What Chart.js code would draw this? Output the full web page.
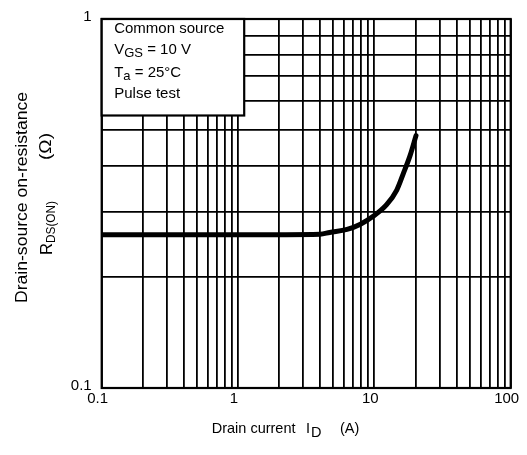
<!DOCTYPE html>
<html>
<head>
<meta charset="utf-8">
<script src="https://cdn.jsdelivr.net/npm/chart.js@4/dist/chart.umd.min.js"></script>
<style>
	html, body { margin: 0; padding: 0; background: #fff; }
	canvas { display: block; }
</style>
</head>
<body>
<canvas id="rds-chart" width="527" height="455"></canvas>
<script>
	'use strict';

	// curve (A, ohm)
	const drainCurrent = [0.1, 1, 4, 4.7, 6.3, 7.9, 9.8, 12.3, 14.6, 16.3, 18.3, 20.2];
	const onResistance = [0.26, 0.26, 0.261, 0.264, 0.269, 0.278, 0.292, 0.314, 0.344, 0.381, 0.427, 0.483];

	const xTickLabels = ['0.1', '1', '10', '100'];
	const yTickLabels = ['0.1', '1'];
	const gridSteps = [1, 2, 3, 4, 5, 6, 7, 8, 9];

	const fontFamily = '"Liberation Sans", Arial, sans-serif';

	// log grid: 1..9 in every decade between the first and last labels
	function logGrid( labels ) {
		var out = [];
		for ( var i = 0; i < labels.length - 1; i++ ) {
			var base = parseFloat( labels[i] );
			gridSteps.forEach(function( s ) {
				out.push( { value: +( base * s ).toPrecision( 3 ) } );
			});
		}
		out.push( { value: parseFloat( labels[labels.length - 1] ) } );
		return out;
	}

	function decadeLabel( labels ) {
		return function( value ) {
			var hit = labels.find(function( l ) { return Math.abs( parseFloat( l ) - value ) < 1e-9; });
			return hit ? hit : '';
		};
	}

	// draws a string rotated -90deg, squeezed/stretched to a given length
	function vText( ctx, str, x, y, font, len ) {
		ctx.save();
		ctx.font = font;
		ctx.translate( x, y );
		ctx.rotate( -Math.PI / 2 );
		if ( len ) {
			ctx.scale( len / ctx.measureText( str ).width, 1 );
		}
		ctx.fillText( str, 0, 0 );
		ctx.restore();
	}

	const labelsPlugin = {
		id: 'labels',
		afterDraw: function( chart ) {
			var ctx = chart.ctx;
			var a = chart.chartArea;

			ctx.save();
			ctx.fillStyle = '#000';
			ctx.strokeStyle = '#000';
			ctx.textAlign = 'left';
			ctx.textBaseline = 'alphabetic';

			// frame
			ctx.lineWidth = 2.2;
			ctx.strokeRect( a.left, a.top, a.right - a.left, a.bottom - a.top );

			// condition box
			ctx.fillStyle = '#fff';
			ctx.fillRect( a.left, a.top, 142.5, 96.5 );
			ctx.strokeRect( a.left, a.top, 142.5, 96.5 );
			ctx.fillStyle = '#000';

			var big = '15px ' + fontFamily;
			var sub = '13px ' + fontFamily;
			var tx = a.left + 12.5;

			ctx.font = big;
			ctx.fillText( 'Common source', tx, 32.7 );

			ctx.fillText( 'V', tx, 54.3 );
			var w = ctx.measureText( 'V' ).width;
			ctx.font = sub;
			ctx.fillText( 'GS', tx + w, 56.8 );
			w += ctx.measureText( 'GS' ).width;
			ctx.font = big;
			ctx.fillText( ' = 10 V', tx + w, 54.3 );

			ctx.fillText( 'T', tx, 76.5 );
			w = ctx.measureText( 'T' ).width;
			ctx.font = sub;
			ctx.fillText( 'a', tx + w, 79.5 );
			w += ctx.measureText( 'a' ).width;
			ctx.font = big;
			ctx.fillText( ' = 25\u00b0C', tx + w, 76.5 );

			ctx.fillText( 'Pulse test', tx, 97.5 );

			// x title
			ctx.font = '14.5px ' + fontFamily;
			ctx.fillText( 'Drain current', 211.7, 433.3 );
			ctx.fillText( 'I', 306, 433.3 );
			ctx.fillText( 'D', 311, 436.8 );
			ctx.fillText( '(A)', 340, 433.3 );

			// y title
			vText( ctx, 'Drain-source on-resistance', 27, 303, '16px ' + fontFamily, 211 );
			vText( ctx, 'R', 52, 255, '16.5px ' + fontFamily );
			vText( ctx, 'DS(ON)', 55, 243, '13px ' + fontFamily, 42 );
			vText( ctx, '(\u03a9)', 51, 160, '16px ' + fontFamily, 27 );

			ctx.restore();
		}
	};

	const ctx = document.getElementById( 'rds-chart' );

	var rdsChart = new Chart( ctx, {
		type: 'line',
		data: {
			datasets: [{
				data: drainCurrent.map(function( x, i ) { return { x: x, y: onResistance[i] }; }),
				borderColor: '#000',
				borderWidth: 5,
				pointRadius: 0,
				fill: false,
				cubicInterpolationMode: 'monotone',
				borderCapStyle: 'round'
			}]
		},
		options: {
			responsive: false,
			animation: false,
			layout: {
				padding: { top: 12.5, right: 16.3, left: 0, bottom: 0 }
			},
			plugins: {
				legend: { display: false },
				tooltip: { enabled: false }
			},
			scales: {
				x: {
					type: 'logarithmic',
					min: 0.1,
					max: 100,
					afterBuildTicks: function( scale ) { scale.ticks = logGrid( xTickLabels ); },
					afterFit: function( scale ) { scale.height = 67; },
					grid: { color: '#000', lineWidth: 1.8, drawTicks: false },
					border: { display: false },
					ticks: {
						autoSkip: false,
						maxRotation: 0,
						padding: 2,
						labelOffset: -4,
						color: '#000',
						font: { family: fontFamily, size: 15 },
						callback: decadeLabel( xTickLabels )
					}
				},
				y: {
					type: 'logarithmic',
					min: 0.1,
					max: 1,
					afterBuildTicks: function( scale ) { scale.ticks = logGrid( yTickLabels ); },
					afterFit: function( scale ) { scale.width = 101.7; },
					grid: { color: '#000', lineWidth: 1.8, drawTicks: false },
					border: { display: false },
					ticks: {
						autoSkip: false,
						padding: 10,
						labelOffset: -2,
						color: '#000',
						font: { family: fontFamily, size: 15 },
						callback: decadeLabel( yTickLabels )
					}
				}
			}
		},
		plugins: [ labelsPlugin ]
	});
</script>
</body>
</html>
